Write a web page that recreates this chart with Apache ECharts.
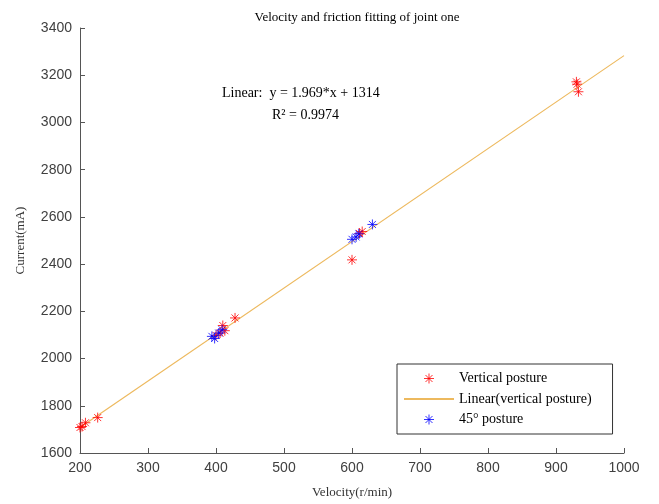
<!DOCTYPE html>
<html><head><meta charset="utf-8">
<script src="https://cdn.jsdelivr.net/npm/echarts@6/dist/echarts.min.js"></script>
<style>html,body{margin:0;padding:0;background:#fff}#c{width:659px;height:504px}</style>
</head><body><div id="c"></div>
<script>
const verticalPosture = [
  [200, 1708], [203, 1712], [208, 1728], [226, 1750],
  [400, 2098], [406, 2108], [410, 2140], [413, 2118], [428, 2172],
  [600, 2418], [611, 2530], [615, 2538],
  [930, 3172], [931, 3162], [933, 3130]
];
const posture45 = [
  [394, 2094], [398, 2085], [404, 2108], [409, 2122],
  [600, 2505], [606, 2515], [610, 2528], [630, 2568]
];
const fitLine = [[200, 1708], [1000, 3283]];
const xTicks = {min: 200, max: 1000, interval: 100};
const yTicks = {min: 1600, max: 3400, interval: 200};

const star = 'path://M0,-10L0,10M-10,0L10,0M-7,-7L7,7M-7,7L7,-7';
const serif = '"Liberation Serif","DejaVu Serif",serif';
const sans = '"Liberation Sans",Arial,sans-serif';

const chart = echarts.init(document.getElementById('c'));
chart.setOption({
  animation: false,
  title: {
    text: 'Velocity and friction fitting of joint one',
    left: 352, top: 6, textAlign: 'center',
    textStyle: {fontFamily: serif, fontSize: 13, fontWeight: 'normal', color: '#000'}
  },
  grid: {left: 80, right: 35, top: 28, bottom: 48},
  xAxis: {
    type: 'value', min: xTicks.min, max: xTicks.max, interval: xTicks.interval,
    name: 'Velocity(r/min)', nameLocation: 'middle', nameGap: 33,
    nameTextStyle: {fontFamily: serif, fontSize: 13, color: '#333'},
    axisLine: {lineStyle: {color: '#555'}},
    axisTick: {inside: true, length: 5, lineStyle: {color: '#555'}},
    axisLabel: {fontFamily: sans, fontSize: 14, color: '#404040', margin: 8, formatter: v => String(v)},
    splitLine: {show: false}
  },
  yAxis: {
    type: 'value', min: yTicks.min, max: yTicks.max, interval: yTicks.interval,
    name: 'Current(mA)', nameLocation: 'middle', nameGap: 53,
    nameTextStyle: {fontFamily: serif, fontSize: 13, color: '#333'},
    axisLine: {show: true, lineStyle: {color: '#555'}},
    axisTick: {show: true, inside: true, length: 5, lineStyle: {color: '#555'}},
    axisLabel: {fontFamily: sans, fontSize: 14, color: '#404040', margin: 8, formatter: v => String(v)},
    splitLine: {show: false}
  },
  legend: {
    orient: 'vertical', left: 397, top: 364,
    padding: [7, 21, 7, 6], itemGap: 6,
    backgroundColor: '#fff', borderColor: '#333', borderWidth: 1, borderRadius: 0,
    itemWidth: 50, itemHeight: 10,
    textStyle: {fontFamily: serif, fontSize: 14, color: '#000'},
    data: [
      {name: 'Vertical posture', icon: star, itemStyle: {color: 'none', borderColor: '#ff0000', borderWidth: 1}},
      {name: 'Linear(vertical posture)', itemStyle: {opacity: 0}},
      {name: '45° posture', icon: star, itemStyle: {color: 'none', borderColor: '#0000ff', borderWidth: 1}}
    ]
  },
  graphic: [
    {type: 'text', left: 222, top: 86, style: {text: 'Linear:  y = 1.969*x + 1314', font: '14px ' + serif, fill: '#000'}},
    {type: 'text', left: 272, top: 108, style: {text: 'R² = 0.9974', font: '14px ' + serif, fill: '#000'}}
  ],
  series: [
    {
      name: 'Vertical posture', type: 'scatter', data: verticalPosture, z: 3,
      symbol: star, symbolSize: 10,
      itemStyle: {color: 'none', borderColor: '#ff0000', borderWidth: 1}
    },
    {
      name: 'Linear(vertical posture)', type: 'line', data: fitLine, z: 2,
      showSymbol: false, symbol: 'none',
      lineStyle: {color: '#EDB95E', width: 1.2}, itemStyle: {color: '#EDB95E'}
    },
    {
      name: '45° posture', type: 'scatter', data: posture45, z: 4,
      symbol: star, symbolSize: 10,
      itemStyle: {color: 'none', borderColor: '#0000ff', borderWidth: 1}
    }
  ]
});
</script></body></html>
